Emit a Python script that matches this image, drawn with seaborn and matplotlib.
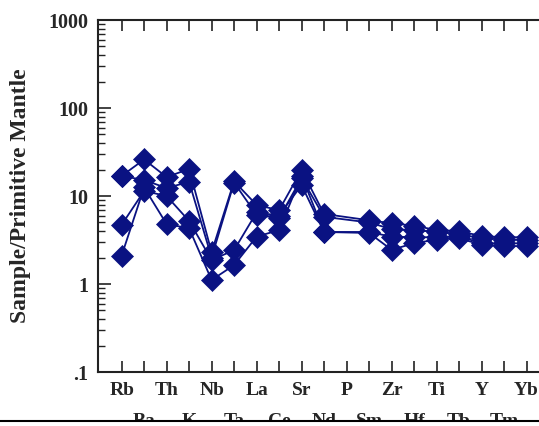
import numpy as np
import pandas as pd
import matplotlib
matplotlib.use("Agg")
import matplotlib.pyplot as plt
from matplotlib.lines import Line2D
from matplotlib.patches import Rectangle
from matplotlib.ticker import FixedLocator, LogLocator, NullFormatter
import seaborn as sns

# Primitive-mantle normalised trace element pattern
elements = ["Rb", "Ba", "Th", "K", "Nb", "Ta", "La", "Ce", "Sr", "Nd",
            "P", "Sm", "Zr", "Hf", "Ti", "Tb", "Y", "Tm", "Yb"]

sample_1 = [16.9, 26.0, 16.4, 20.3, 2.3, 14.7, 7.9, 6.9, 19.8, 6.25,
            np.nan, 5.3, 4.9, 4.6, 4.1, 4.0, 3.5, 3.4, 3.4]
sample_2 = [16.9, 15.2, 12.3, 14.5, 2.0, 14.2, 6.1, 5.6, 16.0, 5.8,
            np.nan, 5.0, 4.2, 4.1, 3.9, 3.7, 3.3, 3.2, 3.2]
sample_3 = [4.7, 11.4, 10.0, 5.2, 1.87, 2.43, 6.5, 6.0, 13.3, 3.9,
            np.nan, 3.9, 3.45, 3.4, 3.4, 3.5, 2.9, 2.9, 2.9]
sample_4 = [2.1, 12.5, 4.8, 4.3, 1.11, 1.64, 3.45, 4.1, 17.0, 3.9,
            np.nan, 3.8, 2.45, 2.9, 3.2, 3.3, 2.8, 2.7, 2.7]

samples = {"1": sample_1, "2": sample_2, "3": sample_3, "4": sample_4}

y_ticks = [0.1, 1, 10, 100, 1000]
y_tick_labels = [".1", "1", "10", "100", "1000"]

rows = []
for name, vals in samples.items():
    for i, (el, v) in enumerate(zip(elements, vals)):
        rows.append({"sample": name, "pos": i, "element": el, "value": v})
df = pd.DataFrame(rows).dropna()

sns.set_style("ticks")
plt.rcParams["font.family"] = ["Liberation Serif", "DejaVu Serif"]
plt.rcParams["font.weight"] = "bold"

navy = "#0a1282"
ink = "#222222"

fig = plt.figure(figsize=(5.39, 4.26), dpi=100)
ax = fig.add_axes([98 / 539, 54 / 426, 451 / 539, 352 / 426])

sns.lineplot(data=df, x="pos", y="value", units="sample", estimator=None,
             sort=False, color=navy, linewidth=1.3, marker="D",
             markersize=11, markeredgecolor=navy, markeredgewidth=0.5,
             ax=ax, legend=False)

ax.set_yscale("log")
ax.set_ylim(0.1, 1000)
ax.set_xlim(-1.05, 19)

ax.yaxis.set_major_locator(FixedLocator(y_ticks))
ax.set_yticklabels(y_tick_labels, fontsize=14.5, fontweight="bold")
ax.yaxis.set_minor_locator(LogLocator(base=10, subs=np.arange(2, 10)))
ax.yaxis.set_minor_formatter(NullFormatter())

ax.set_xticks(range(len(elements)))
ax.set_xticklabels(elements, fontsize=14, fontweight="bold")
for i, lab in enumerate(ax.get_xticklabels()):
    if i % 2 == 1:
        lab.set_y(-0.088)

ax.tick_params(axis="x", direction="in", length=8, width=1.2, color=ink,
               pad=7, top=True, bottom=True)
ax.tick_params(axis="y", which="major", direction="in", length=9, width=1.2,
               color=ink, pad=7, left=True, right=False)
ax.tick_params(axis="y", which="minor", direction="in", length=5, width=1.0,
               color=ink, left=True, right=False)

for side in ["left", "top", "bottom"]:
    ax.spines[side].set_visible(True)
    ax.spines[side].set_color(ink)
    ax.spines[side].set_linewidth(1.5)
ax.spines["right"].set_visible(False)

ax.set_xlabel("")
ax.set_ylabel("Sample/Primitive Mantle", fontsize=17, fontweight="bold")
ax.yaxis.set_label_coords(-0.148, 0.5)

# rule along the bottom edge of the figure, blank margin below it
fig.add_artist(Rectangle((0, 0), 1, 5 / 426, transform=fig.transFigure,
                         facecolor="white", edgecolor="none", zorder=10))
fig.add_artist(Line2D([0, 1], [5 / 426, 5 / 426], transform=fig.transFigure,
                      color="black", linewidth=1.5, zorder=11))

fig.savefig("out.png", dpi=100, facecolor="white")
